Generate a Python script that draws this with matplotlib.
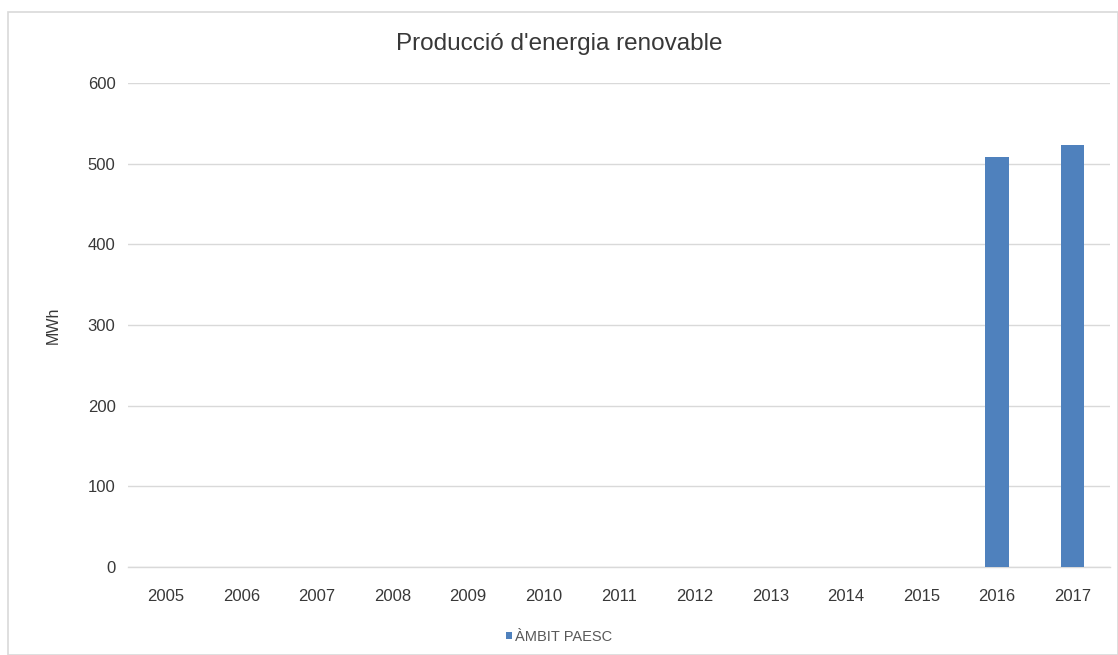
import matplotlib
matplotlib.use("Agg")
import matplotlib.pyplot as plt
from matplotlib.patches import Rectangle

plt.rcParams['font.family'] = ['Liberation Sans', 'DejaVu Sans']

years = ['2005', '2006', '2007', '2008', '2009', '2010', '2011',
         '2012', '2013', '2014', '2015', '2016', '2017']
ambit_paesc = [0, 0, 0, 0, 0, 0, 0, 0, 0, 0, 0, 508, 523]
y_ticks = [0, 100, 200, 300, 400, 500, 600]

fig = plt.figure(figsize=(11.18, 6.55), dpi=100)
# light frame around the chart
fig.patches.append(Rectangle((8 / 1118, 0), 1 - 8 / 1118, 1 - 12 / 655,
                             transform=fig.transFigure, fill=False,
                             edgecolor='#d9d9d9', linewidth=1.2))

ax = fig.add_axes([0.1145, 0.1344, 0.993 - 0.1145, 0.873 - 0.1344])
x = range(len(years))
ax.bar(x, ambit_paesc, width=0.31, color='#4f81bd', label='ÀMBIT PAESC', zorder=3)

ax.set_xlim(-0.5, len(years) - 0.5)
ax.set_ylim(0, 600)
ax.set_yticks(y_ticks)
ax.set_xticks(list(x))
ax.set_xticklabels(years)
ax.grid(axis='y', color='#d9d9d9', linewidth=1, zorder=0)
ax.axhline(0, color='#d9d9d9', linewidth=1, zorder=0, clip_on=False)
for s in ax.spines.values():
    s.set_visible(False)
ax.tick_params(length=0, labelsize=12, colors='#383838')
ax.tick_params(axis='x', pad=16)
ax.tick_params(axis='y', pad=9)

ax.set_ylabel('MWh', fontsize=11.5, color='#383838', labelpad=19)
fig.text(0.5, 1 - 44 / 655, "Producció d'energia renovable", ha='center', va='center',
         fontsize=17.5, color='#383838')

fig.legend(loc='center', bbox_to_anchor=(0.5, 1 - 637 / 655), frameon=False, fontsize=10.5,
           handlelength=0.4, handleheight=0.4, handletextpad=0.2, labelcolor='#595959')

fig.savefig('out.png', dpi=100, facecolor='white')
